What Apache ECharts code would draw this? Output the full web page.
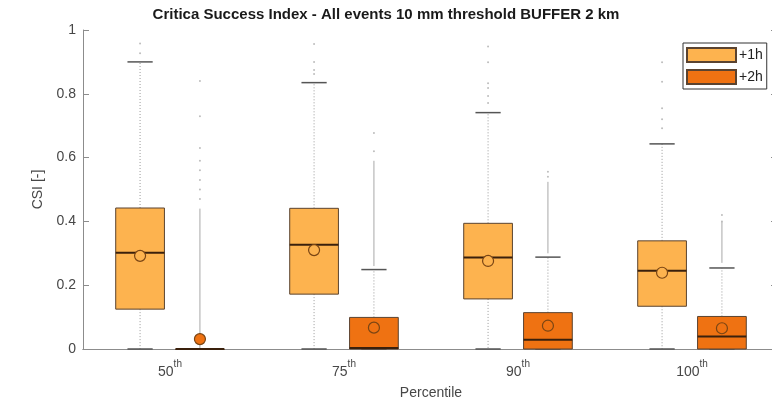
<!DOCTYPE html>
<html>
<head>
<meta charset="utf-8">
<script src="https://cdn.jsdelivr.net/npm/echarts@6/dist/echarts.min.js"></script>
<style>
  html, body { margin: 0; padding: 0; background: #fff; }
  #chart { width: 772px; height: 404px; }
</style>
</head>
<body>
<div id="chart"></div>
<script>
// Percentile classes on the x axis
const percentiles = ['50', '75', '90', '100'];
const leads = ['+1h', '+2h'];
const yTicks = [0, 0.2, 0.4, 0.6, 0.8, 1];

// Box statistics per percentile: [lowerWhisker, q1, median, q3, upperWhisker]
const box1h = [
  [0, 0.125, 0.302, 0.442, 0.900],
  [0, 0.172, 0.327, 0.441, 0.835],
  [0, 0.157, 0.287, 0.394, 0.741],
  [0, 0.134, 0.245, 0.339, 0.643]
];
const box2h = [
  [0, 0, 0, 0, 0],
  [0, 0, 0.003, 0.099, 0.249],
  [0, 0, 0.029, 0.114, 0.288],
  [0, 0, 0.039, 0.102, 0.254]
];
// Mean CSI per percentile
const mean1h = [0.292, 0.310, 0.276, 0.239];
const mean2h = [0.031, 0.067, 0.073, 0.065];

// Individual outliers
const outliers1h = [
  [0.927, 0.958],
  [0.862, 0.875, 0.900, 0.956],
  [0.771, 0.793, 0.818, 0.833, 0.899, 0.948],
  [0.692, 0.720, 0.755, 0.838, 0.899]
];
const outliers2h = [
  [0.47, 0.50, 0.53, 0.56, 0.59, 0.63, 0.73, 0.84],
  [0.620, 0.677],
  [0.540, 0.556],
  [0.400, 0.420]
];
// Ranges where outliers are packed so densely they read as a line
const dense1h = [null, null, null, null];
const dense2h = [
  [0, 0.44],
  [0.26, 0.59],
  [0.30, 0.524],
  [0.27, 0.40]
];

const fill1h = '#FDB34F';
const fill2h = '#EF7212';
const edge = '#5a4330';

const OFFSET = 0.172;   // box centre offset, fraction of a category band
const BOXW = 0.28;      // box width, fraction of a category band
const CAPW = 0.145;     // whisker cap width, fraction of a category band

function makeBoxSeries(name, boxes, means, outs, dense, side, fill) {
  const data = boxes.map((b, i) => [i, b[0], b[1], b[2], b[3], b[4], means[i]]);
  return {
    name: name,
    type: 'custom',
    itemStyle: { color: fill, borderColor: edge, borderWidth: 1 },
    data: data,
    z: 3,
    renderItem: function (params, api) {
      const i = api.value(0);
      const band = api.size([1, 0])[0];
      const cx = api.coord([i, 0])[0] + side * OFFSET * band;
      const bw = BOXW * band;
      const cw = CAPW * band;
      const y = v => api.coord([i, v])[1];
      const lw = api.value(1), q1 = api.value(2), md = api.value(3),
            q3 = api.value(4), uw = api.value(5), mn = api.value(6);
      const kids = [];
      // dense outlier stretch
      const d = dense[i];
      if (d) {
        kids.push({ type: 'line', shape: { x1: cx, y1: y(d[0]), x2: cx, y2: y(d[1]) },
          style: { stroke: '#999999', lineWidth: 1, opacity: 0.85 } });
      }
      // sparse outliers
      outs[i].forEach(v => {
        kids.push({ type: 'circle', shape: { cx: cx, cy: y(v), r: 1 },
          style: { fill: '#bdbdbd' } });
      });
      // whiskers
      if (uw > q3) {
        kids.push({ type: 'line', shape: { x1: cx, y1: y(q3), x2: cx, y2: y(uw) },
          style: { stroke: '#9a9a9a', lineWidth: 1, lineDash: [1, 2] } });
        kids.push({ type: 'line', shape: { x1: cx - cw / 2, y1: y(uw), x2: cx + cw / 2, y2: y(uw) },
          style: { stroke: '#555', lineWidth: 1.5 } });
      }
      if (q1 > lw) {
        kids.push({ type: 'line', shape: { x1: cx, y1: y(q1), x2: cx, y2: y(lw) },
          style: { stroke: '#9a9a9a', lineWidth: 1, lineDash: [1, 2] } });
      }
      kids.push({ type: 'line', shape: { x1: cx - cw / 2, y1: y(lw), x2: cx + cw / 2, y2: y(lw) },
        style: { stroke: '#555', lineWidth: 1.5 } });
      // box
      kids.push({ type: 'rect',
        shape: { x: cx - bw / 2, y: y(q3), width: bw, height: Math.max(y(q1) - y(q3), 0.5) },
        style: { fill: fill, stroke: edge, lineWidth: 1 } });
      // median
      kids.push({ type: 'line', shape: { x1: cx - bw / 2, y1: y(md), x2: cx + bw / 2, y2: y(md) },
        style: { stroke: '#3a200c', lineWidth: 2 } });
      // mean
      kids.push({ type: 'circle', shape: { cx: cx, cy: y(mn), r: 5.5 },
        style: { fill: fill, stroke: '#7a4514', lineWidth: 1.2 } });
      return { type: 'group', children: kids };
    }
  };
}

const chart = echarts.init(document.getElementById('chart'), null, { renderer: 'canvas' });
const font = 'Liberation Sans, Arial, Helvetica, sans-serif';
const axisGray = '#8c8c8c';
const textGray = '#474747';

chart.setOption({
  animation: false,
  backgroundColor: '#ffffff',
  textStyle: { fontFamily: font },
  title: {
    text: 'Critica Success Index - All events 10 mm threshold BUFFER 2 km',
    left: 'center',
    top: 2,
    textStyle: { fontFamily: font, fontSize: 15, fontWeight: 'bold', color: '#1a1a1a' }
  },
  legend: {
    data: leads,
    orient: 'vertical',
    left: 683,
    top: 43,
    padding: [4, 4, 4, 3],
    itemGap: 6,
    itemWidth: 49,
    itemHeight: 14,
    icon: 'rect',
    borderColor: '#333',
    borderWidth: 1,
    backgroundColor: '#fff',
    textStyle: { fontFamily: font, fontSize: 14, color: '#222', padding: [0, 0, 0, -2] }
  },
  grid: { left: 83, top: 30, width: 696, height: 319, outerBoundsMode: 'none', containLabel: false },
  xAxis: [
    {
      type: 'category',
      data: percentiles,
      position: 'bottom',
      name: 'Percentile',
      nameLocation: 'middle',
      nameGap: 37,
      nameTextStyle: { fontFamily: font, fontSize: 14, color: textGray },
      axisLine: { lineStyle: { color: axisGray } },
      axisTick: { inside: true, alignWithLabel: true, length: 6, lineStyle: { color: axisGray } },
      axisLabel: {
        margin: 10,
        formatter: v => '{n|' + v + '}{s|th}',
        rich: {
          n: { fontFamily: font, fontSize: 14, color: textGray, lineHeight: 20, verticalAlign: 'bottom' },
          s: { fontFamily: font, fontSize: 10, color: textGray, lineHeight: 20, verticalAlign: 'top' }
        }
      },
      splitLine: { show: false }
    },
    {
      type: 'category',
      data: percentiles,
      position: 'top',
      axisLine: { lineStyle: { color: axisGray } },
      axisTick: { inside: true, alignWithLabel: true, length: 6, lineStyle: { color: axisGray } },
      axisLabel: { show: false },
      splitLine: { show: false }
    }
  ],
  yAxis: [
    {
      type: 'value',
      min: 0,
      max: 1,
      interval: 0.2,
      name: 'CSI [-]',
      nameLocation: 'middle',
      nameGap: 36,
      nameTextStyle: { fontFamily: font, fontSize: 14, color: textGray },
      axisLine: { show: true, lineStyle: { color: axisGray } },
      axisTick: { show: true, inside: true, length: 6, lineStyle: { color: axisGray } },
      axisLabel: {
        margin: 7,
        fontFamily: font, fontSize: 14, color: textGray,
        formatter: v => {
          const t = yTicks.find(k => Math.abs(k - v) < 1e-9);
          return t === undefined ? '' : String(t);
        }
      },
      splitLine: { show: false }
    },
    {
      type: 'value',
      min: 0,
      max: 1,
      interval: 0.2,
      position: 'right',
      axisLine: { show: true, lineStyle: { color: axisGray } },
      axisTick: { show: true, inside: true, length: 8, lineStyle: { color: axisGray } },
      axisLabel: { show: false },
      splitLine: { show: false }
    }
  ],
  series: [
    makeBoxSeries(leads[0], box1h, mean1h, outliers1h, dense1h, -1, fill1h),
    makeBoxSeries(leads[1], box2h, mean2h, outliers2h, dense2h, 1, fill2h)
  ]
});
</script>
</body>
</html>
